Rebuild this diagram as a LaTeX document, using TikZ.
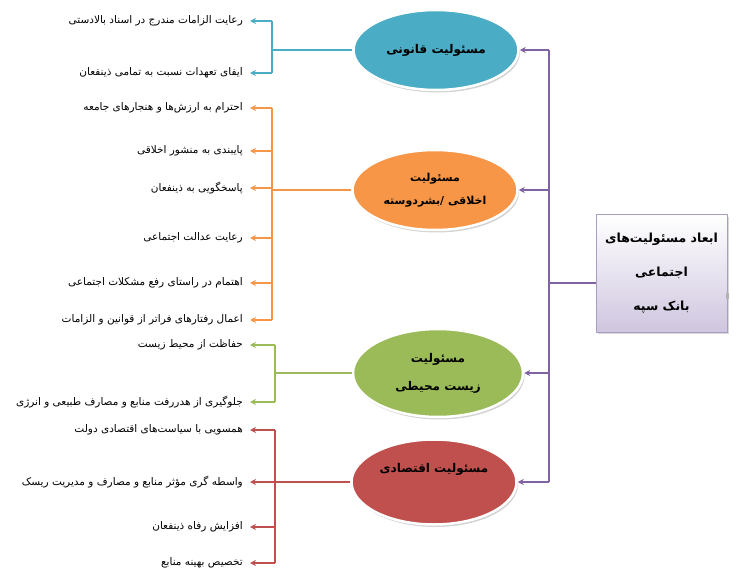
\documentclass[tikz,border=0pt]{standalone}
\usepackage{fontspec}
\usetikzlibrary{shapes.geometric,shadows,arrows.meta}
\TeXXeTstate=1
\newfontfamily\arabicfont[Script=Arabic]{DejaVu Sans}
\definecolor{ghcol}{HTML}{4BACC6}
\definecolor{akcol}{HTML}{F79646}
\definecolor{mhcol}{HTML}{9BBB59}
\definecolor{eqcol}{HTML}{C0504D}
\definecolor{pucol}{HTML}{8064A2}
\definecolor{boxfill}{HTML}{CFC6DF}
\definecolor{boxedge}{HTML}{A99DC2}
\begin{document}
\begin{tikzpicture}[x=1pt,y=-1pt,line join=round,>={Stealth[length=6pt,width=6pt]},
	dim/.style={ellipse,draw=white,line width=2.5pt,minimum width=165pt,minimum height=80pt,align=center,
		drop shadow={opacity=.35,shadow xshift=1.5pt,shadow yshift=-2.5pt},
		font=\arabicfont\bfseries\fontsize{12}{14}\selectfont},
	item/.style={anchor=east,inner xsep=7pt,font=\arabicfont\fontsize{10.5}{12}\selectfont},
	bond/.style={line width=1.1pt}]
	\useasboundingbox (0,0) rectangle (738,577);
	%Hop chinh
	\node[rectangle,draw=boxedge,line width=1pt,top color=white,bottom color=boxfill,
		minimum width=131pt,minimum height=117pt,align=center,
		drop shadow={opacity=.3,shadow xshift=2pt,shadow yshift=-2pt},
		font=\arabicfont\bfseries\fontsize{12.5}{34}\selectfont] (main) at (661.5,273.5)
		{\beginR ابعاد مسئولیت‌های\endR\\\beginR اجتماعی\endR\\\beginR بانک سپه\endR};
	\fill[gray!60] (725.5,293) rectangle (728.5,299);
	%Cac elip
	\node[dim,fill=ghcol] (ghanuni) at (436,50) {\beginR مسئولیت قانونی\endR};
	\node[dim,fill=akcol,font=\arabicfont\bfseries\fontsize{11}{23}\selectfont] (akhlaghi) at (435,190)
		{\beginR مسئولیت\endR\\\beginR اخلاقی /بشردوسته\endR};
	\node[dim,fill=mhcol,minimum width=170pt,minimum height=88pt,font=\arabicfont\bfseries\fontsize{12}{28}\selectfont] (mohiti) at (438,373)
		{\beginR مسئولیت\endR\\\beginR زیست محیطی\endR};
	\node[dim,fill=eqcol,minimum height=85pt,font=\arabicfont\bfseries\fontsize{12}{28}\selectfont] (eghtesadi) at (434,482)
		{\beginR مسئولیت اقتصادی\endR\\\mbox{}};
	%Cac muc ben trai
	\node[item] (g1) at (250,21) {\beginR رعایت الزامات مندرج در اسناد بالادستی\endR};
	\node[item] (g2) at (250,73) {\beginR ایفای تعهدات نسبت به تمامی ذینفعان\endR};
	\node[item] (a1) at (250,108) {\beginR احترام به ارزش‌ها و هنجارهای جامعه\endR};
	\node[item] (a2) at (250,151) {\beginR پایبندی به منشور اخلاقی\endR};
	\node[item] (a3) at (250,188) {\beginR پاسخگویی به ذینفعان\endR};
	\node[item] (a4) at (250,238) {\beginR رعایت عدالت اجتماعی\endR};
	\node[item] (a5) at (250,283) {\beginR اهتمام در راستای رفع مشکلات اجتماعی\endR};
	\node[item] (a6) at (250,320) {\beginR اعمال رفتارهای فراتر از قوانین و الزامات\endR};
	\node[item] (m1) at (250,345) {\beginR حفاظت از محیط زیست\endR};
	\node[item] (m2) at (250,402) {\beginR جلوگیری از هدررفت منابع و مصارف طبیعی و انرژی\endR};
	\node[item] (e1) at (250,430) {\beginR همسویی با سیاست‌های اقتصادی دولت\endR};
	\node[item] (e2) at (250,482) {\beginR واسطه گری مؤثر منابع و مصارف و مدیریت ریسک\endR};
	\node[item] (e3) at (250,527) {\beginR افزایش رفاه ذینفعان\endR};
	\node[item] (e4) at (250,563) {\beginR تخصیص بهینه منابع\endR};
	%Truc tim
	\coordinate (trunk) at (549,283);
	\draw[bond,pucol] ([yshift=-9.5pt]main.west) -- ([yshift=-9.5pt]main.west -| trunk);
	\draw[bond,pucol] (ghanuni.east -| trunk) -- (eghtesadi.east -| trunk);
	\foreach \d in {ghanuni,akhlaghi,mohiti,eghtesadi} \draw[bond,pucol,->] (\d.east -| trunk) -- (\d.east);
	%Cac nhanh ben trai
	\coordinate (bl) at (272,0);
	\coordinate (gl) at (275,0);
	\draw[bond,ghcol] (ghanuni.west) -- (ghanuni.west -| bl);
	\draw[bond,ghcol] (g1.east -| bl) -- (g2.east -| bl);
	\foreach \i in {g1,g2} \draw[bond,ghcol,->] (\i.east -| bl) -- (\i.east);
	\draw[bond,akcol] (akhlaghi.west) -- (akhlaghi.west -| bl);
	\draw[bond,akcol] (a1.east -| bl) -- (a6.east -| bl);
	\foreach \i in {a1,a2,a3,a4,a5,a6} \draw[bond,akcol,->] (\i.east -| bl) -- (\i.east);
	\draw[bond,mhcol] (mohiti.west) -- (mohiti.west -| gl);
	\draw[bond,mhcol] (m1.east -| gl) -- (m2.east -| gl);
	\foreach \i in {m1,m2} \draw[bond,mhcol,->] (\i.east -| gl) -- (\i.east);
	\draw[bond,eqcol] (eghtesadi.west) -- (eghtesadi.west -| gl);
	\draw[bond,eqcol] (e1.east -| gl) -- (e4.east -| gl);
	\foreach \i in {e1,e2,e3,e4} \draw[bond,eqcol,->] (\i.east -| gl) -- (\i.east);
\end{tikzpicture}
\end{document}
